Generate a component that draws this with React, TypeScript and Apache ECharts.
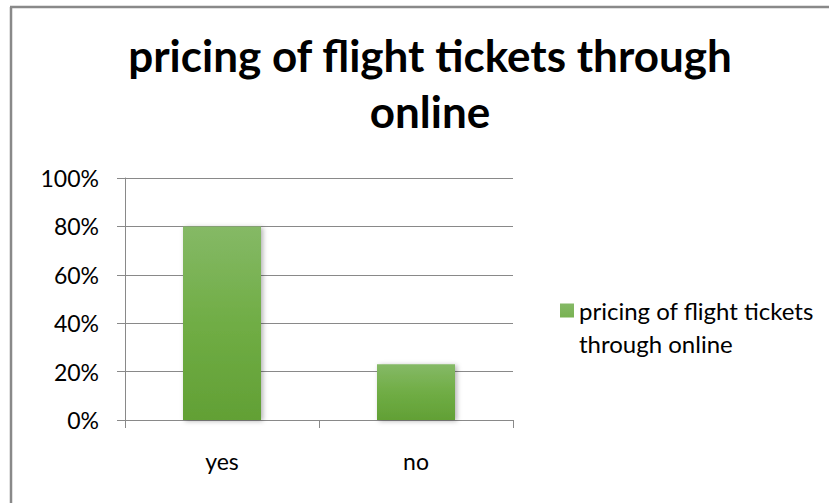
import React, { useEffect, useRef } from "react";
import * as echarts from "echarts";

const categories = ["yes", "no"];
const values = [80, 23];
const seriesName = "pricing of flight tickets through online";
const titleText = "pricing of flight tickets through\nonline";
const yTicks = { min: 0, max: 100, interval: 20 };

export default function App() {
  const ref = useRef<HTMLDivElement>(null);
  useEffect(() => {
    if (!ref.current) return;
    const chart = echarts.init(ref.current, null, { renderer: "svg" });
    const gray = "#898989";
    chart.setOption({
      animation: false,
      backgroundColor: "#ffffff",
      title: {
        text: titleText,
        left: 425,
        top: 22,
        textAlign: "center",
        textStyle: {
          fontFamily: "Lato",
          fontWeight: "bold",
          fontSize: 44,
          lineHeight: 56,
          color: "#000",
        },
      },
      legend: {
        left: 555,
        top: 289,
        orient: "vertical",
        data: [seriesName],
        itemWidth: 14,
        itemHeight: 47,
        itemGap: 5,
        icon: "path://M0,0L14,0L14,14L0,14Z M0,46.9L0.05,46.9L0.05,47L0,47Z",
        formatter: () => "pricing of flight tickets\nthrough online",
        textStyle: {
          fontFamily: "Lato",
          fontSize: 24,
          lineHeight: 33,
          color: "#000",
        },
      },
      grid: { left: 125, right: 316, top: 178, bottom: 83 },
      xAxis: {
        type: "category",
        data: categories,
        axisLine: { lineStyle: { color: gray, width: 1 } },
        axisTick: { show: true, length: 8, lineStyle: { color: gray } },
        axisLabel: {
          fontFamily: "Lato",
          fontSize: 23,
          color: "#000",
          margin: 29,
        },
      },
      yAxis: {
        type: "value",
        min: yTicks.min,
        max: yTicks.max,
        interval: yTicks.interval,
        axisLine: { show: true, lineStyle: { color: gray, width: 1 } },
        axisTick: { show: true, length: 8, lineStyle: { color: gray } },
        splitLine: { lineStyle: { color: gray, width: 1 } },
        axisLabel: {
          formatter: "{value}%",
          fontFamily: "Lato",
          fontSize: 23,
          color: "#000",
          margin: 26,
        },
      },
      series: [
        {
          name: seriesName,
          type: "bar",
          data: values,
          barWidth: 78,
          itemStyle: {
            color: new echarts.graphic.LinearGradient(0, 0, 0, 1, [
              { offset: 0, color: "#85b966" },
              { offset: 0.5, color: "#70ad45" },
              { offset: 1, color: "#62a035" },
            ]),
            shadowBlur: 5,
            shadowOffsetX: 2,
            shadowOffsetY: 1,
            shadowColor: "rgba(0,0,0,0.3)",
          },
        },
      ],
      graphic: [
        {
          type: "line",
          shape: { x1: 11, y1: 7, x2: 11, y2: 503 },
          style: { stroke: gray, lineWidth: 2.5 },
        },
        {
          type: "line",
          shape: { x1: 10, y1: 7, x2: 829, y2: 7 },
          style: { stroke: gray, lineWidth: 2.5 },
        },
      ],
    });
    return () => chart.dispose();
  }, []);
  return (
    <div
      ref={ref}
      style={{ position: "fixed", left: 0, top: 0, width: 829, height: 503 }}
    />
  );
}
